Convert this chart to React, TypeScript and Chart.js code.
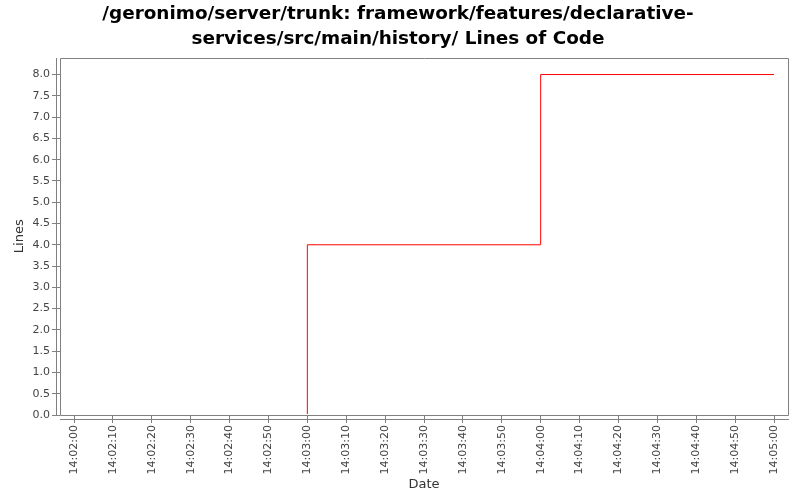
import React, { useEffect, useRef } from "react";
import { Chart, registerables } from "chart.js";

Chart.register(...registerables);

const titleLines = [
  "/geronimo/server/trunk: framework/features/declarative-",
  "services/src/main/history/ Lines of Code",
];
// seconds after 14:02:00
const timesSec = [0, 60, 120, 180];
const linesValues = [0, 4, 8, 8];
const yTicks = [0, 0.5, 1, 1.5, 2, 2.5, 3, 3.5, 4, 4.5, 5, 5.5, 6, 6.5, 7, 7.5, 8];
const xTicksSec = [0, 10, 20, 30, 40, 50, 60, 70, 80, 90, 100, 110, 120, 130, 140, 150, 160, 170, 180];
const baseHour = 14;
const baseMinute = 2;

function fmtTime(s: number): string {
  const total = baseHour * 3600 + baseMinute * 60 + Math.round(s);
  const h = Math.floor(total / 3600);
  const m = Math.floor((total % 3600) / 60);
  const sec = total % 60;
  const p = (n: number) => (n < 10 ? "0" + n : "" + n);
  return `${p(h)}:${p(m)}:${p(sec)}`;
}

const framePlugin = {
  id: "frame",
  afterDraw(chart: any) {
    const { ctx, chartArea } = chart;
    const left = Math.round(chartArea.left);
    const right = Math.round(chartArea.right);
    const top = Math.round(chartArea.top);
    const bottom = Math.round(chartArea.bottom);
    ctx.save();
    ctx.strokeStyle = "#808080";
    ctx.lineWidth = 1;
    ctx.beginPath();
    ctx.moveTo(left + 0.5, top + 0.5);
    ctx.lineTo(right + 0.5, top + 0.5);
    ctx.lineTo(right + 0.5, bottom + 0.5);
    ctx.lineTo(left + 0.5, bottom + 0.5);
    ctx.closePath();
    ctx.stroke();
    // cover the baseline row of the data line
    ctx.beginPath();
    ctx.moveTo(left + 1, bottom - 0.5);
    ctx.lineTo(right, bottom - 0.5);
    ctx.strokeStyle = "#ffffff";
    ctx.stroke();
    ctx.beginPath();
    ctx.strokeStyle = "#808080";
    ctx.moveTo(left - 3.5, top);
    ctx.lineTo(left - 3.5, bottom + 1);
    ctx.moveTo(left, bottom + 4.5);
    ctx.lineTo(right + 1, bottom + 4.5);
    ctx.stroke();
    ctx.restore();
  },
};

export default function App() {
  const ref = useRef<HTMLCanvasElement | null>(null);
  useEffect(() => {
    if (!ref.current) return;
    const chart = new Chart(ref.current, {
      type: "line",
      data: {
        datasets: [
          {
            data: timesSec.map((t, i) => ({ x: t, y: linesValues[i] })),
            borderColor: "#ff0000",
            borderWidth: 1,
            pointRadius: 0,
            stepped: "before",
            fill: false,
          },
        ],
      },
      plugins: [framePlugin],
      options: {
        animation: false,
        responsive: false,
        maintainAspectRatio: false,
        layout: { padding: { left: 8, right: 12, top: 0, bottom: 0 } },
        plugins: {
          legend: { display: false },
          tooltip: { enabled: false },
          title: {
            display: true,
            text: titleLines,
            color: "#000000",
            font: { family: "DejaVu Sans", size: 18.4, weight: "bold", lineHeight: 1.4 },
            padding: { top: 1, bottom: 5 },
          },
        },
        scales: {
          x: {
            type: "linear",
            min: -3.6,
            max: 183.6,
            afterBuildTicks: (scale: any) => {
              scale.ticks = xTicksSec.map((v) => ({ value: v }));
            },
            afterFit: (scale: any) => {
              scale.height = 85;
            },
            ticks: {
              autoSkip: false,
              maxRotation: 90,
              minRotation: 90,
              padding: 2,
              color: "#444444",
              font: { family: "DejaVu Sans", size: 11 },
              callback: (v: any) => fmtTime(Number(v)),
            },
            grid: {
              display: true,
              drawOnChartArea: false,
              drawTicks: true,
              tickLength: 8,
              color: "#808080",
            },
            border: { display: false },
            title: {
              display: true,
              text: "Date",
              color: "#333333",
              font: { family: "DejaVu Sans", size: 13 },
              padding: { top: 0, bottom: 8 },
            },
          },
          y: {
            type: "linear",
            min: 0,
            max: 8.4,
            afterBuildTicks: (scale: any) => {
              scale.ticks = yTicks.map((v) => ({ value: v }));
            },
            afterFit: (scale: any) => {
              scale.width = 52;
            },
            ticks: {
              autoSkip: false,
              padding: 2,
              color: "#444444",
              font: { family: "DejaVu Sans", size: 11 },
              callback: (v: any) => Number(v).toFixed(1),
            },
            grid: {
              display: true,
              drawOnChartArea: false,
              drawTicks: true,
              tickLength: 8,
              color: "#808080",
            },
            border: { display: false },
            title: {
              display: true,
              text: "Lines",
              color: "#333333",
              font: { family: "DejaVu Sans", size: 13 },
              padding: { top: 4, bottom: 0 },
            },
          },
        },
      },
    });
    return () => chart.destroy();
  }, []);
  return (
    <div style={{ position: "fixed", left: 0, top: 0, width: 800, height: 500, background: "#ffffff" }}>
      <canvas ref={ref} width={800} height={500} style={{ width: 800, height: 500 }} />
    </div>
  );
}
